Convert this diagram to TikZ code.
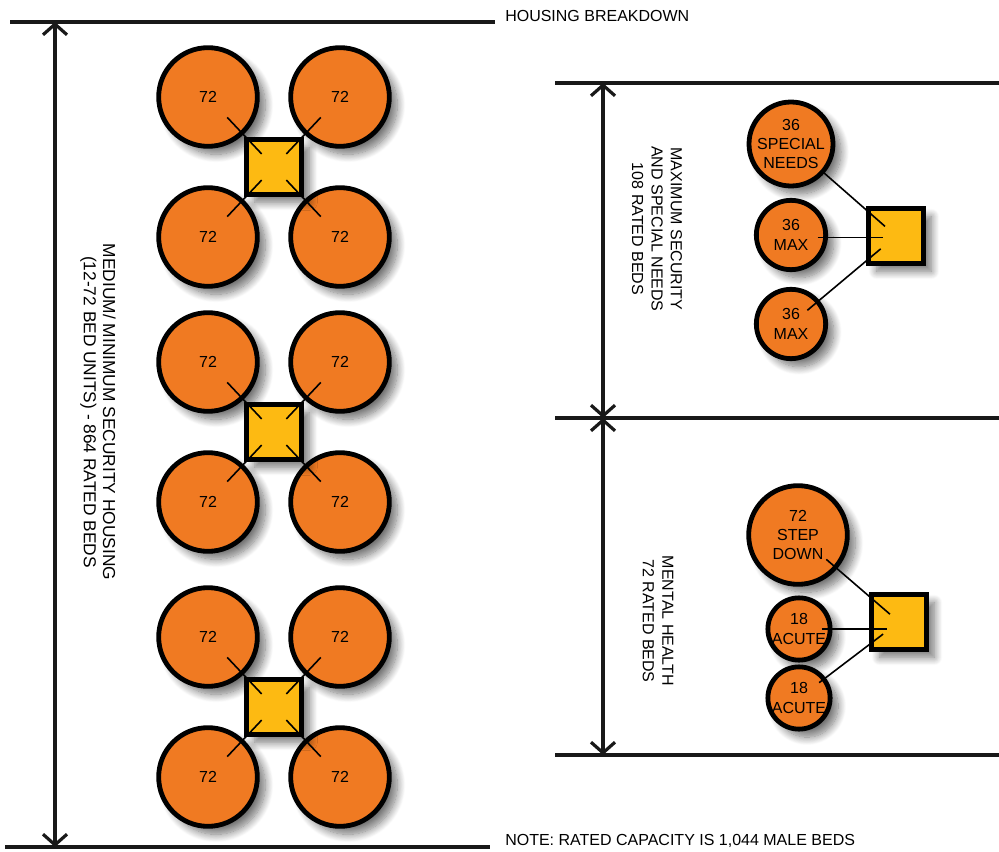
\documentclass[tikz,border=0pt]{standalone}
\usepackage{fontspec}
\setmainfont{Liberation Sans}
\usetikzlibrary{arrows.meta,shadows.blur}
\definecolor{orng}{RGB}{240,122,34}
\definecolor{ylw}{RGB}{253,186,18}
\begin{document}
\begin{tikzpicture}[x=0.75pt,y=-0.75pt,
  font=\fontsize{12}{14.6}\selectfont,
  shad/.style={blur shadow={shadow xshift=6pt,shadow yshift=-6pt,shadow blur radius=6pt,shadow blur steps=12,shadow opacity=55}},
  unit/.style={circle,draw=black,line width=3.6pt,fill=orng,inner sep=0pt,align=center,text=black,shad},
  big/.style={unit,minimum size=74pt},
  hub/.style={rectangle,draw=black,line width=4pt,fill=ylw,inner sep=0pt,shad},
  conn/.style={line width=1.2pt,black},
  barb/.tip={Straight Barb[length=8pt,width=18pt]},
  dim/.style={line width=2.4pt,black!90,barb-barb},
  rule/.style={line width=2.5pt,black!90},
  lbl/.style={align=center,text=black},
]
\useasboundingbox (0,0) rectangle (999,852);

% ---------- dimension frames ----------
\coordinate (l1) at (10,22);   \coordinate (l2) at (495,22);
\coordinate (l3) at (5,847);   \coordinate (l4) at (490,847);
\coordinate (r1) at (555,83);  \coordinate (r2) at (999,83);
\coordinate (r3) at (555,418); \coordinate (r4) at (999,418);
\coordinate (r5) at (555,755); \coordinate (r6) at (999,755);
\draw[rule] (l1) -- (l2);
\draw[rule] (l3) -- (l4);
\draw[rule] (r1) -- (r2);
\draw[rule] (r3) -- (r4);
\draw[rule] (r5) -- (r6);
\coordinate (da) at (55,22);  \coordinate (db) at (55,847);
\coordinate (dc) at (603,83); \coordinate (dd) at (603,418); \coordinate (de) at (603,755);
\draw[dim] (da) -- (db);
\draw[dim] (dc) -- (dd);
\draw[dim] (dd) -- (de);

% ---------- labels ----------
\node[lbl,anchor=base west,inner sep=0pt] (title) at (505,22) {HOUSING BREAKDOWN};
\node[lbl,anchor=base west,inner sep=0pt] (note) at (505,845) {NOTE: RATED CAPACITY IS 1,044 MALE BEDS};
\node[lbl,rotate=-90,font=\fontsize{13}{14.6}\selectfont] (medlbl) at (98,412) {MEDIUM/ MINIMUM SECURITY HOUSING\\(12-72 BED UNITS) - 864 RATED BEDS};
\node[lbl,rotate=-90] (maxlbl) at (657,229) {MAXIMUM SECURITY\\AND SPECIAL NEEDS\\108 RATED BEDS};
\node[lbl,rotate=-90] (mhlbl) at (658,621) {MENTAL HEALTH\\72 RATED BEDS};

% ---------- medium / minimum clusters ----------
\foreach \k/\yy in {1/167,2/432,3/707}{
  \node[big] (a\k) at (208,{\yy-70}) {72};
  \node[big] (b\k) at (340,{\yy-70}) {72};
  \node[big] (c\k) at (208,{\yy+70}) {72};
  \node[big] (d\k) at (340,{\yy+70}) {72};
  \node[hub,minimum size=41pt] (s\k) at (274,\yy) {};
  \foreach \n in {a,b,c,d}{
    \draw[conn,shorten <=21pt,shorten >=13.5pt] (\n\k.center) -- (s\k.center);
  }
}

% ---------- maximum security / special needs ----------
\node[unit,minimum size=52pt] (sn) at (791,144) {36\\SPECIAL\\NEEDS};
\node[unit,minimum size=52pt] (mx1) at (791,235) {36\\MAX};
\node[unit,minimum size=52pt] (mx2) at (791,324) {36\\MAX};
\node[hub,minimum size=41pt] (hq) at (896,236) {};
\draw[conn,shorten <=30pt,shorten >=11pt] (sn.center) -- (hq.center);
\draw[conn,shorten <=20pt,shorten >=10pt] ([yshift=-2pt]mx1.center) -- ([yshift=-2pt]mx1.center -| hq.center);
\draw[conn,shorten <=16pt,shorten >=15pt] (mx2.center) -- (hq.center);

% ---------- mental health ----------
\node[unit,minimum size=74pt] (sd) at (798,535) {72\\STEP\\DOWN};
\node[unit,minimum size=42pt] (ac1) at (799,629) {18\\ACUTE};
\node[unit,minimum size=42pt] (ac2) at (799,698) {18\\ACUTE};
\node[hub,minimum size=41pt] (hm) at (899,622) {};
\draw[conn,shorten <=28pt,shorten >=9pt] (sd.center) -- (hm.center);
\draw[conn,shorten <=17pt,shorten >=9pt] (ac1.center) -- (ac1.center -| hm.center);
\draw[conn,shorten <=19pt,shorten >=15pt] (ac2.center) -- (hm.center);
\end{tikzpicture}
\end{document}
